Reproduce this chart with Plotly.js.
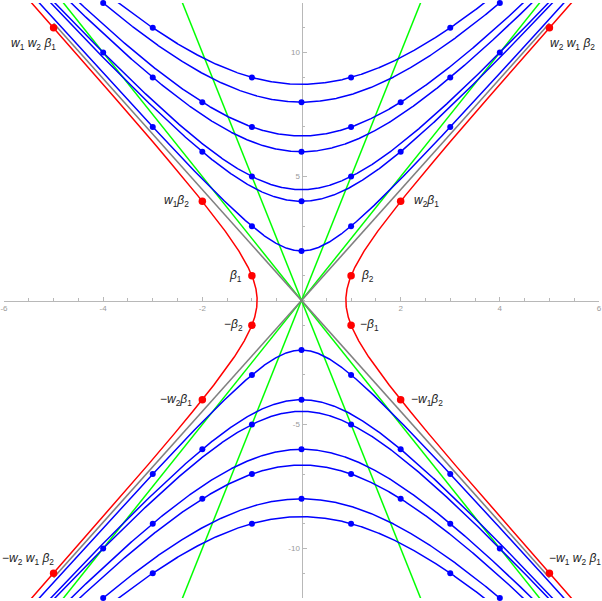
<!DOCTYPE html>
<html>
<head>
<meta charset="utf-8">
<script src="https://cdn.plot.ly/plotly-3.0.1.min.js"></script>
<style>html,body{margin:0;padding:0;background:#fff;}#chart{width:602px;height:601px;}</style>
</head>
<body>
<div id="chart"></div>
<script>
// ---- data ----
// quadratic form Q(x,y) = y^2 - formCoef * x^2
const formCoef = 5;
// levels of the blue (imaginary-root) hyperbolas  y^2 - 5x^2 = c
const blueLevels = [4, 16, 20, 36, 44, 64, 76];
// level of the red (real-root) hyperbola  5x^2 - y^2 = c
const redLevel = 4;
// green reflection lines y = k x
const greenSlopes = [5, -5, 2.5, -2.5];
// gray light-cone lines y = ±sqrt(5) x, drawn for |x| <= grayExtent
const grayExtent = 5;
// blue lattice points
const blueX = [0, -1, 1, -3, 3, 0, -2, 2, -1, 1, -4, 4, 0, -3, 3, -1, 1, -2, 2, 0, -4, 4, -1, 1, -3, 3];
const blueY = [2, 3, 3, 7, 7, 4, 6, 6, 5, 5, 10, 10, 6, 9, 9, 7, 7, 8, 8, 8, 12, 12, 9, 9, 11, 11];
// red real roots
const redX = [-1, 1, -1, 1, -2, 2, -2, 2, -5, 5, -5, 5];
const redY = [1, 1, -1, -1, 4, 4, -4, -4, 11, 11, -11, -11];
const redLabels = [
  '<i>β</i><sub>1</sub>', '<i>β</i><sub>2</sub>',
  '−<i>β</i><sub>2</sub>', '−<i>β</i><sub>1</sub>',
  '<i>w</i><sub>1</sub><i>β</i><sub>2</sub>', '<i>w</i><sub>2</sub><i>β</i><sub>1</sub>',
  '−<i>w</i><sub>2</sub><i>β</i><sub>1</sub>', '−<i>w</i><sub>1</sub><i>β</i><sub>2</sub>',
  '<i>w</i><sub>1</sub> <i>w</i><sub>2</sub> <i>β</i><sub>1</sub>', '<i>w</i><sub>2</sub> <i>w</i><sub>1</sub> <i>β</i><sub>2</sub>',
  '−<i>w</i><sub>2</sub> <i>w</i><sub>1</sub> <i>β</i><sub>2</sub>', '−<i>w</i><sub>1</sub> <i>w</i><sub>2</sub> <i>β</i><sub>1</sub>'
];
const xTickVals = [-6, -4, -2, 2, 4, 6];
const xTickText = ['-6', '-4', '-2', '2', '4', '6'];
const yTickVals = [-10, -5, 5, 10];
const yTickText = ['-10', '-5', '5', '10'];
const xRange = [-6, 6];
const yRange = [-12, 12];

// ---- label placement (style) ----
const labelPlace = [
  ['right', -8, 0], ['left', 8, 0], ['right', -7, 0], ['left', 7, 0],
  ['right', -11, 0], ['left', 11, 0], ['right', -8, 0], ['left', 8, 0],
  ['right', 4, -16], ['left', -1, -16], ['right', 2, 14], ['left', -2, 14]
];

const traces = [];
const step = 0.01;

// green lines
greenSlopes.forEach(k => {
  traces.push({x: [xRange[0], xRange[1]], y: [k * xRange[0], k * xRange[1]], mode: 'lines',
    line: {color: 'rgb(0,255,0)', width: 1.5}, hoverinfo: 'skip', showlegend: false});
});
// gray asymptotes
const s = Math.sqrt(formCoef);
[1, -1].forEach(sg => {
  traces.push({x: [-grayExtent, grayExtent], y: [-sg * s * grayExtent, sg * s * grayExtent], mode: 'lines',
    line: {color: 'rgb(128,128,128)', width: 1.6}, hoverinfo: 'skip', showlegend: false});
});
// blue hyperbolas
blueLevels.forEach(c => {
  [1, -1].forEach(sg => {
    const xs = [], ys = [];
    for (let x = xRange[0]; x <= xRange[1] + 1e-9; x += step) {
      const y = Math.sqrt(c + formCoef * x * x);
      if (y > yRange[1] + 1) continue;
      xs.push(x); ys.push(sg * y);
    }
    traces.push({x: xs, y: ys, mode: 'lines', line: {color: 'rgb(0,0,255)', width: 1.5},
      hoverinfo: 'skip', showlegend: false});
  });
});
// red hyperbola
[1, -1].forEach(sg => {
  const xs = [], ys = [];
  for (let y = yRange[0] - 0.5; y <= yRange[1] + 0.5 + 1e-9; y += step) {
    xs.push(sg * Math.sqrt((y * y + redLevel) / formCoef)); ys.push(y);
  }
  traces.push({x: xs, y: ys, mode: 'lines', line: {color: 'rgb(255,0,0)', width: 1.5},
    hoverinfo: 'skip', showlegend: false});
});
// blue points (both halves)
traces.push({x: blueX.concat(blueX), y: blueY.concat(blueY.map(v => -v)), mode: 'markers',
  marker: {color: 'rgb(0,0,255)', size: 6}, cliponaxis: false, hoverinfo: 'skip', showlegend: false});
// red points
traces.push({x: redX, y: redY, mode: 'markers',
  marker: {color: 'rgb(255,0,0)', size: 7.5}, cliponaxis: false, hoverinfo: 'skip', showlegend: false});

const annotations = redX.map((x, i) => ({
  x: x, y: redY[i], xref: 'x', yref: 'y', text: redLabels[i], showarrow: false,
  xanchor: labelPlace[i][0], yanchor: 'middle', xshift: labelPlace[i][1], yshift: labelPlace[i][2],
  font: {family: 'Liberation Sans, Arial, sans-serif', size: 12, color: '#222'}
}));

function range(a, b, d) { const r = []; for (let v = a; v <= b + 1e-9; v += d) r.push(+v.toFixed(6)); return r; }

const axisCommon = {
  showgrid: false, zeroline: false, showline: true, linecolor: '#b8b8b8', linewidth: 1,
  ticks: 'inside', tickcolor: '#b8b8b8', tickwidth: 1, layer: 'below traces',
  tickfont: {family: 'Liberation Sans, Arial, sans-serif', size: 8, color: '#9a9a9a'},
  anchor: 'free', position: 0.5, fixedrange: true
};

const layout = {
  width: 602, height: 601,
  margin: {l: 4, r: 3, t: 3, b: 3, pad: 0},
  paper_bgcolor: '#fff', plot_bgcolor: '#fff',
  showlegend: false,
  xaxis: Object.assign({}, axisCommon, {
    range: xRange, tickmode: 'array', tickvals: xTickVals, ticktext: xTickText, ticklen: 4,
    minor: {tickmode: 'array', tickvals: range(-6, 6, 0.5), ticks: 'inside', ticklen: 2.5, tickcolor: '#b8b8b8', showgrid: false}
  }),
  yaxis: Object.assign({}, axisCommon, {
    range: yRange, tickmode: 'array', tickvals: yTickVals, ticktext: yTickText, ticklen: 4,
    minor: {tickmode: 'array', tickvals: range(-12, 12, 1), ticks: 'inside', ticklen: 2.5, tickcolor: '#b8b8b8', showgrid: false}
  }),
  annotations: annotations
};

Plotly.newPlot('chart', traces, layout, {staticPlot: true, displayModeBar: false});
</script>
</body>
</html>
